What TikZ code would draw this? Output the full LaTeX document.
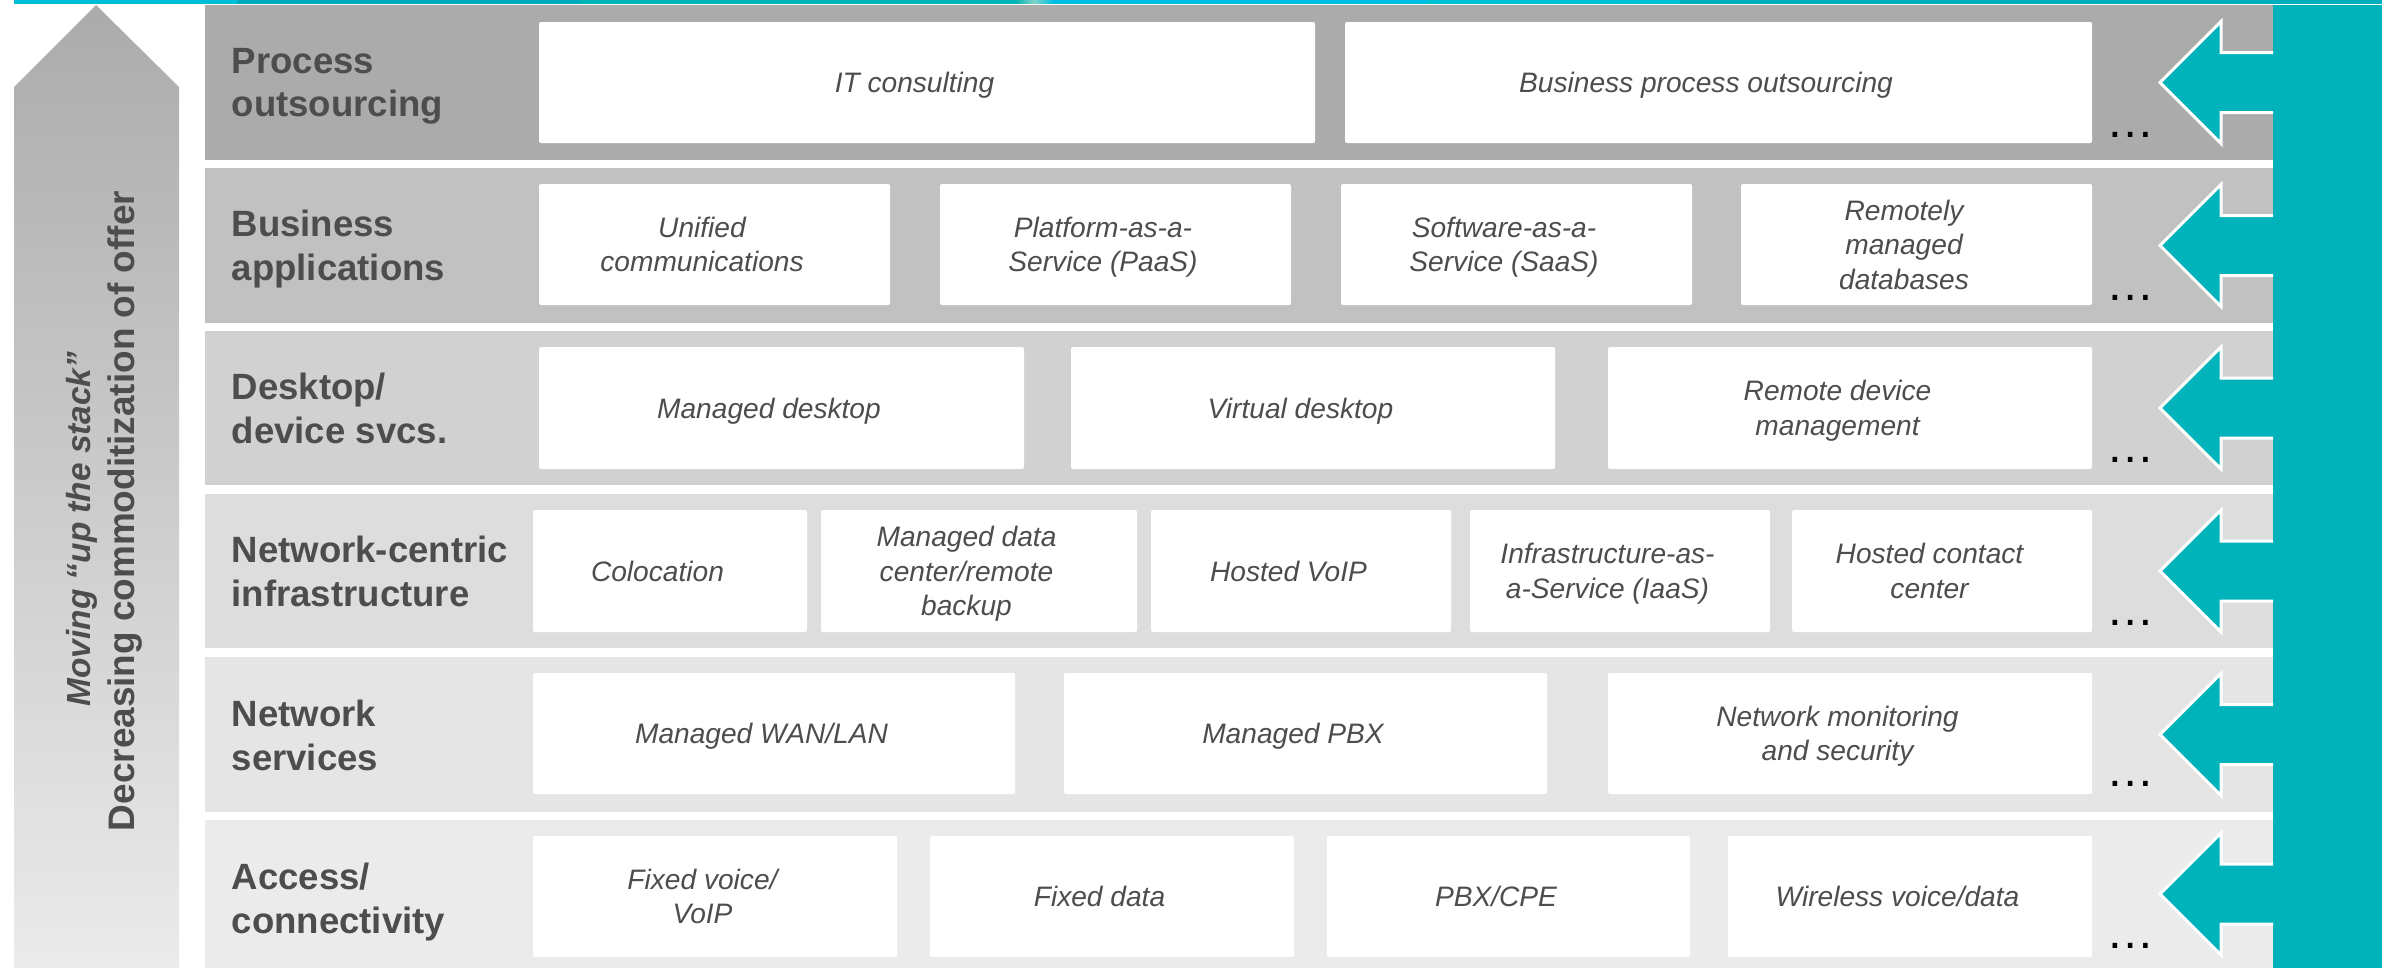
\documentclass[tikz,border=0pt]{standalone}
\usepackage{fontspec}
\setmainfont{Liberation Sans}
\usetikzlibrary{fit}
\definecolor{teal1}{RGB}{0,179,187}
\definecolor{txt}{RGB}{77,77,77}
\definecolor{r1}{RGB}{171,171,171}
\definecolor{r2}{RGB}{193,193,193}
\definecolor{r3}{RGB}{209,209,209}
\definecolor{r4}{RGB}{221,221,221}
\definecolor{r5}{RGB}{229,229,229}
\definecolor{r6}{RGB}{235,235,235}
\definecolor{lc1}{RGB}{0,190,216}
\definecolor{lc2}{RGB}{0,170,190}
\definecolor{lc3}{RGB}{0,179,180}
\definecolor{lc4}{RGB}{128,210,200}
\definecolor{lc5}{RGB}{0,190,226}
\definecolor{lc6}{RGB}{0,192,214}
\definecolor{lc7}{RGB}{0,174,187}
\newcommand\svcbox[6]{%
  \node[svc, minimum width={(#4-#2)*0.01cm}, minimum height={(#5-#3)*0.01cm}] (#1) at ({(#2+#4)/2},{(#3+#5)/2}) {};
  \node[svctext] (#1t) at ([xshift=-0.125cm]#1.center) {#6};}
\begin{document}
\begin{tikzpicture}[x=0.01cm,y=-0.01cm,
  band/.style={inner sep=0pt, outer sep=0pt, draw=none},
  svc/.style={fill=white, rounded corners=0.02cm, inner sep=0pt, outer sep=0pt},
  svctext/.style={inner sep=0pt, align=center, text=txt, text depth=0pt, font=\fontsize{8}{9.8}\selectfont\itshape},
  lbl/.style={anchor=west, align=left, text=txt, inner sep=0pt, text depth=0pt, font=\fontsize{10.4}{12.4}\selectfont\bfseries},
  more/.style={anchor=base west, inner sep=0pt, font=\fontsize{13.7}{14}\selectfont},
  side/.style={rotate=90, anchor=base, inner sep=0pt, text=txt}
]
\useasboundingbox (0,0) rectangle (2392,969);
% top line
\fill[lc1] (14,0) rectangle (237,3.5);
\fill[lc2] (237,0) rectangle (580,3.5);
\fill[lc3] (580,0) rectangle (1015,3.5);
\shade[left color=lc3, right color=lc4] (1015,0) rectangle (1034,3.5);
\shade[left color=lc4, right color=lc5] (1034,0) rectangle (1053,3.5);
\fill[lc5] (1053,0) rectangle (1427,3.5);
\fill[lc6] (1427,0) rectangle (1680,3.5);
\fill[lc7] (1680,0) rectangle (2382,3.5);

% left arrow
\shade[top color=r1, bottom color=r6] (14,87) -- (96,5) -- (179,87) -- (179,968) -- (14,968) -- cycle;
\node[side, font=\fontsize{9.5}{12}\selectfont\bfseries\itshape] (mv) at (90,529) {Moving “up the stack”};
\node[side, font=\fontsize{10.5}{12}\selectfont\bfseries] (dc) at (134,511) {Decreasing commoditization of offer};

% bands
\node[band, fill=r1, fit={(205,5) (2273,160)}] (b1) {};
\node[band, fill=r2, fit={(205,168) (2273,323)}] (b2) {};
\node[band, fill=r3, fit={(205,331) (2273,485)}] (b3) {};
\node[band, fill=r4, fit={(205,494) (2273,648)}] (b4) {};
\node[band, fill=r5, fit={(205,657) (2273,812)}] (b5) {};
\node[band, fill=r6, fit={(205,820) (2273,968)}] (b6) {};

% labels
\node[lbl] (l1) at (231,82.5) {Process\\outsourcing};
\node[lbl] (l2) at (231,245.5) {Business\\applications};
\node[lbl] (l3) at (231,408) {Desktop/\\device svcs.};
\node[lbl] (l4) at (231,571) {Network-centric\\infrastructure};
\node[lbl] (l5) at (231,735) {Network\\services};
\node[lbl] (l6) at (231,898) {Access/\\connectivity};

% row 1
\svcbox{s11}{539}{22}{1315}{143}{IT consulting}
\svcbox{s12}{1345}{22}{2092}{143}{Business process outsourcing}
% row 2
\svcbox{s21}{539}{184}{890}{305}{Unified\\communications}
\svcbox{s22}{940}{184}{1291}{305}{Platform-as-a-\\Service (PaaS)}
\svcbox{s23}{1341}{184}{1692}{305}{Software-as-a-\\Service (SaaS)}
\svcbox{s24}{1741}{184}{2092}{305}{Remotely\\managed\\databases}
% row 3
\svcbox{s31}{539}{347}{1024}{469}{Managed desktop}
\svcbox{s32}{1071}{347}{1555}{469}{Virtual desktop}
\svcbox{s33}{1608}{347}{2092}{469}{Remote device\\management}
% row 4
\svcbox{s41}{533}{510}{807}{632}{Colocation}
\svcbox{s42}{821}{510}{1137}{632}{Managed data\\center/remote\\backup}
\svcbox{s43}{1151}{510}{1451}{632}{Hosted VoIP}
\svcbox{s44}{1470}{510}{1770}{632}{Infrastructure-as-\\a-Service (IaaS)}
\svcbox{s45}{1792}{510}{2092}{632}{Hosted contact\\center}
% row 5
\svcbox{s51}{533}{673}{1015}{794}{Managed WAN/LAN}
\svcbox{s52}{1064}{673}{1547}{794}{Managed PBX}
\svcbox{s53}{1608}{673}{2092}{794}{Network monitoring\\and security}
% row 6
\svcbox{s61}{533}{836}{897}{957}{Fixed voice/\\VoIP}
\svcbox{s62}{930}{836}{1294}{957}{Fixed data}
\svcbox{s63}{1327}{836}{1690}{957}{PBX/CPE}
\svcbox{s64}{1728}{836}{2092}{957}{Wireless voice/data}

% dots
\node[more] (m1) at (2106,137) {…};
\node[more] (m2) at (2106,300) {…};
\node[more] (m3) at (2106,462) {…};
\node[more] (m4) at (2106,625) {…};
\node[more] (m5) at (2106,786) {…};
\node[more] (m6) at (2106,948) {…};

% right teal bar
\fill[teal1] (2273,5) rectangle (2382,968);

% right arrows
\foreach \c in {82.5,245.5,408,571,734.5,894} {
  \fill[teal1] (2160,\c) -- (2221,{\c-61}) -- (2221,{\c-30}) -- (2275,{\c-30}) -- (2275,{\c+30}) -- (2221,{\c+30}) -- (2221,{\c+61}) -- cycle;
  \draw[white, line width=0.03cm, line join=miter] (2273,{\c-30}) -- (2221,{\c-30}) -- (2221,{\c-61}) -- (2160,\c) -- (2221,{\c+61}) -- (2221,{\c+30}) -- (2273,{\c+30});
}
\end{tikzpicture}
\end{document}
